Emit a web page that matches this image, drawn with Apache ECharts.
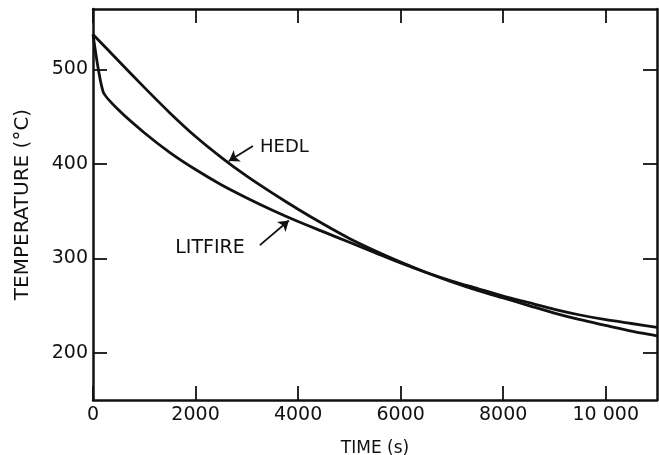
<!DOCTYPE html>
<html>
<head>
<meta charset="utf-8">
<script src="https://cdn.jsdelivr.net/npm/echarts@6.0.0/dist/echarts.min.js"></script>
<style>
  html, body { margin: 0; padding: 0; background: #fff; }
  #chart { width: 659px; height: 455px; }
</style>
</head>
<body>
<div id="chart"></div>
<script>
// tick labels
var timeTicks = [0, 2000, 4000, 6000, 8000, 10000]
var tempTicks = [200, 300, 400, 500]

// HEDL curve (time s, temperature C)
var hedlTime = [0, 500, 1000, 1500, 2000, 2500, 3000, 3500, 4000, 4500, 5000, 5500,
  6000, 6500, 7000, 7500, 8000, 8500, 9000, 9500, 10000, 10500, 11000]
var hedlTemp = [537, 509, 481, 454, 429, 407, 387, 369, 352, 336, 321, 308,
  296, 285, 275, 266, 258, 250, 242, 235, 229, 223, 218]

// LITFIRE curve
var litfireTime = [0, 200, 500, 1000, 1500, 2000, 2500, 3000, 3500, 4000, 4500, 5000,
  5500, 6000, 6500, 7000, 7500, 8000, 8500, 9000, 9500, 10000, 10500, 11000]
var litfireTemp = [537, 476, 457, 433, 412, 394, 378, 364, 351, 339, 328, 317,
  306, 295, 285, 276, 268, 260, 253, 246, 240, 235, 231, 227]

function pairs(xs, ys) {
  return xs.map(function (x, i) { return [x, ys[i]] })
}

var font = "DejaVu Sans"
var ink = "#111"

var chart = echarts.init(document.getElementById("chart"), null, { renderer: "canvas" })

var axisLine = { show: true, onZero: false, lineStyle: { color: ink, width: 2.5 } }
var tick = { show: true, inside: true, length: 14, lineStyle: { color: ink, width: 1.8 } }

var option = {
  backgroundColor: "#fff",
  animation: false,
  grid: { left: 93, right: 2, top: 9, bottom: 55, containLabel: false, outerBoundsMode: "none" },
  xAxis: [
    {
      type: "value",
      position: "bottom",
      min: 0,
      max: 11000,
      axisLine: axisLine,
      axisTick: Object.assign({ customValues: timeTicks }, tick),
      axisLabel: {
        customValues: timeTicks,
        color: ink,
        fontFamily: font,
        fontSize: 19,
        margin: 6,
        formatter: function (v) { return v >= 10000 ? "10 000" : String(v) },
      },
      splitLine: { show: false },
      name: "TIME (s)",
      nameLocation: "middle",
      nameGap: 40,
      nameTextStyle: { color: ink, fontFamily: font, fontSize: 17 },
    },
    {
      type: "value",
      position: "top",
      min: 0,
      max: 11000,
      axisLine: axisLine,
      axisTick: Object.assign({ customValues: timeTicks }, tick),
      axisLabel: { show: false },
      splitLine: { show: false },
    },
  ],
  yAxis: [
    {
      type: "value",
      position: "left",
      min: 150,
      max: 564,
      axisLine: axisLine,
      axisTick: Object.assign({ customValues: tempTicks }, tick),
      axisLabel: {
        customValues: tempTicks,
        color: ink,
        fontFamily: font,
        fontSize: 19,
        margin: 5,
      },
      splitLine: { show: false },
      name: "TEMPERATURE (°C)",
      nameLocation: "middle",
      nameGap: 60,
      nameTextStyle: { color: ink, fontFamily: font, fontSize: 20 },
    },
    {
      type: "value",
      position: "right",
      min: 150,
      max: 564,
      axisLine: axisLine,
      axisTick: Object.assign({ customValues: tempTicks }, tick),
      axisLabel: { show: false },
      splitLine: { show: false },
    },
  ],
  series: [
    {
      name: "HEDL",
      type: "line",
      data: pairs(hedlTime, hedlTemp),
      showSymbol: false,
      smooth: 0.2,
      lineStyle: { color: ink, width: 2.8 },
      markPoint: {
        silent: true,
        symbolSize: 0,
        label: { show: true, position: "inside", color: ink, fontFamily: font, fontSize: 18, formatter: "HEDL" },
        data: [{ coord: [3733, 418] }],
      },
      markLine: {
        silent: true,
        symbol: ["none", "arrow"],
        symbolSize: 10,
        label: { show: false },
        lineStyle: { color: ink, width: 1.8, type: "solid" },
        data: [[{ coord: [3119, 419] }, { coord: [2650, 403] }]],
      },
    },
    {
      name: "LITFIRE",
      type: "line",
      data: pairs(litfireTime, litfireTemp),
      showSymbol: false,
      smooth: 0.2,
      lineStyle: { color: ink, width: 2.8 },
      markPoint: {
        silent: true,
        symbolSize: 0,
        label: { show: true, position: "inside", color: ink, fontFamily: font, fontSize: 19, formatter: "LITFIRE" },
        data: [{ coord: [2281, 311] }],
      },
      markLine: {
        silent: true,
        symbol: ["none", "arrow"],
        symbolSize: 10,
        label: { show: false },
        lineStyle: { color: ink, width: 1.8, type: "solid" },
        data: [[{ coord: [3255, 314] }, { coord: [3820, 340] }]],
      },
    },
  ],
}

chart.setOption(option)
</script>
</body>
</html>
